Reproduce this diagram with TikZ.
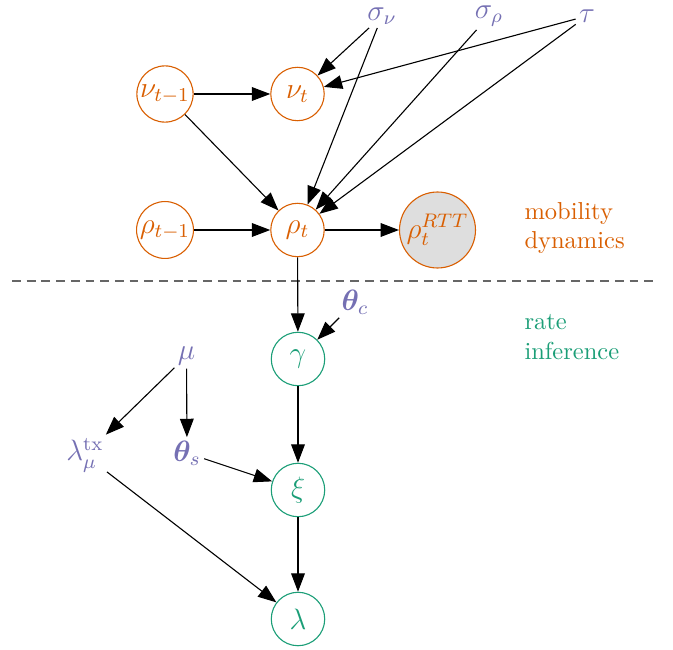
\documentclass[tikz,border=0pt]{standalone}
\usepackage{amsmath,bm}
\usetikzlibrary{arrows.meta}
\definecolor{dorange}{HTML}{D95F02}
\definecolor{dgreen}{HTML}{1B9E77}
\definecolor{dpurple}{HTML}{7570B3}
\tikzset{
  onode/.style={circle,draw=dorange,text=dorange,line width=0.45pt,minimum size=21.8pt,inner sep=0.5pt,font=\large},
  gnode/.style={circle,draw=dgreen,text=dgreen,line width=0.45pt,minimum size=21.8pt,inner sep=0.5pt,font=\large},
  pnode/.style={text=dpurple,inner sep=1.2pt,font=\large},
  obsnode/.style={onode,fill=black!13,minimum size=31pt,inner sep=0pt},
  edge/.style={line width=0.45pt,-{Triangle[length=7.5pt,width=5.6pt]}},
}
\begin{document}
\begin{tikzpicture}[x=0.408pt,y=-0.408pt]
\useasboundingbox (0,0) rectangle (673,650);
\node[onode] (nutm) at (165,94) {$\nu_{t-1}$};
\node[onode] (nut) at (297.5,94) {$\nu_t$};
\node[onode] (rhotm) at (165,230) {$\rho_{t-1}$};
\node[onode] (rhot) at (297.5,230) {$\rho_t$};
\node[obsnode] (rtt) at (437.5,230) {$\rho_t^{RTT}$};
\node[pnode] (signu) at (382,16) {$\sigma_\nu$};
\node[pnode] (sigrho) at (489,16) {$\sigma_\rho$};
\node[pnode] (tau) at (587,16) {$\tau$};
\node[text=dorange,align=left,anchor=west,inner sep=0pt] (mob) at (524,228) {mobility\\dynamics};
\node[text=dgreen,align=left,anchor=west,inner sep=0pt] (rate) at (524,337) {rate\\inference};
\coordinate (dl) at (12,281);
\coordinate (dr) at (657,281);
\draw[black!60,dash pattern=on 3.6pt off 2.4pt,line width=0.45pt] (dl) -- (dr);
\node[gnode] (gamma) at (298,359) {$\gamma$};
\node[gnode] (xi) at (298,490) {$\xi$};
\node[gnode] (lam) at (298,619) {$\lambda$};
\node[pnode] (thc) at (355,302) {$\bm{\theta}_c$};
\node[pnode] (mu) at (186.5,356) {$\mu$};
\node[pnode] (ths) at (187,453) {$\bm{\theta}_s$};
\node[pnode] (lamtx) at (85,455) {$\lambda_\mu^{\text{tx}}$};
\draw[edge] (nutm) -- (nut);
\draw[edge] (signu) -- (nut);
\draw[edge] (tau) -- (nut);
\draw[edge] (nutm) -- (rhot);
\draw[edge] (signu) -- (rhot);
\draw[edge] (sigrho) -- (rhot);
\draw[edge] (tau) -- (rhot);
\draw[edge] (rhotm) -- (rhot);
\draw[edge] (rhot) -- (rtt);
\draw[edge] (rhot) -- (gamma);
\draw[edge] (thc) -- (gamma);
\draw[edge] (gamma) -- (xi);
\draw[edge] (mu) -- (lamtx);
\draw[edge] (mu) -- (ths);
\draw[edge] (ths) -- (xi);
\draw[edge] (lamtx) -- (lam);
\draw[edge] (xi) -- (lam);
\end{tikzpicture}
\end{document}
